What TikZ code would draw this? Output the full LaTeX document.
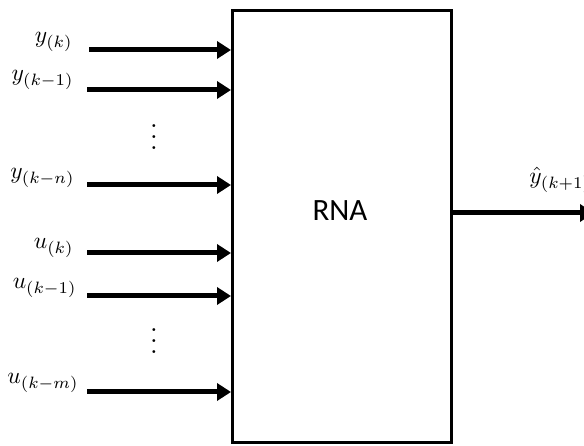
\documentclass[tikz,border=0pt]{standalone}
\usepackage{fontspec}
\newfontfamily\rnafont{Carlito}
\usetikzlibrary{arrows.meta}
\begin{document}
\begin{tikzpicture}[x=1pt,y=-1pt,
  inarrow/.style={line width=5pt,-{Triangle[length=14pt,width=17pt]}},
  lbl/.style={anchor=east,inner sep=0pt,scale=2.35,transform shape},
  vdots/.style={inner sep=0pt,scale=2.75,transform shape}]
\useasboundingbox (0,0) rectangle (584,446);
\clip (0,0) rectangle (584,446);
\node[draw,line width=3pt,minimum width=219pt,minimum height=432pt,inner sep=0pt,anchor=north west] (rna) at (231,9) {};
\node[font=\rnafont\fontsize{31}{34}\selectfont] (t) at (340,211) {RNA};
% inputs
\foreach \n/\yy/\xs in {a/50/89,b/90/87,c/185/87,d/253/87,e/296/87,f/392/87}{
  \coordinate (s\n) at (\xs,\yy);
  \coordinate (e\n) at (231,\yy);
  \draw[inarrow] (s\n) -- (e\n);
}
\node[lbl] (la) at (73,42) {$y_{(k)}$};
\node[lbl] (lb) at (74,80) {$y_{(k-1)}$};
\node[lbl] (lc) at (75,178) {$y_{(k-n)}$};
\node[lbl] (ld) at (74,248) {$u_{(k)}$};
\node[lbl] (le) at (77,288) {$u_{(k-1)}$};
\node[lbl] (lf) at (79,383) {$u_{(k-m)}$};
\node[vdots] (d1) at (154,129) {$\vdots$};
\node[vdots] (d2) at (154,333) {$\vdots$};
% output
\coordinate (os) at (450,213);
\coordinate (oe) at (594,213);
\draw[inarrow] (os) -- (oe);
\node[anchor=west,inner sep=0pt,scale=2.35,transform shape] (lo) at (529,180) {$\hat{y}_{(k+1)}$};
\end{tikzpicture}
\end{document}
